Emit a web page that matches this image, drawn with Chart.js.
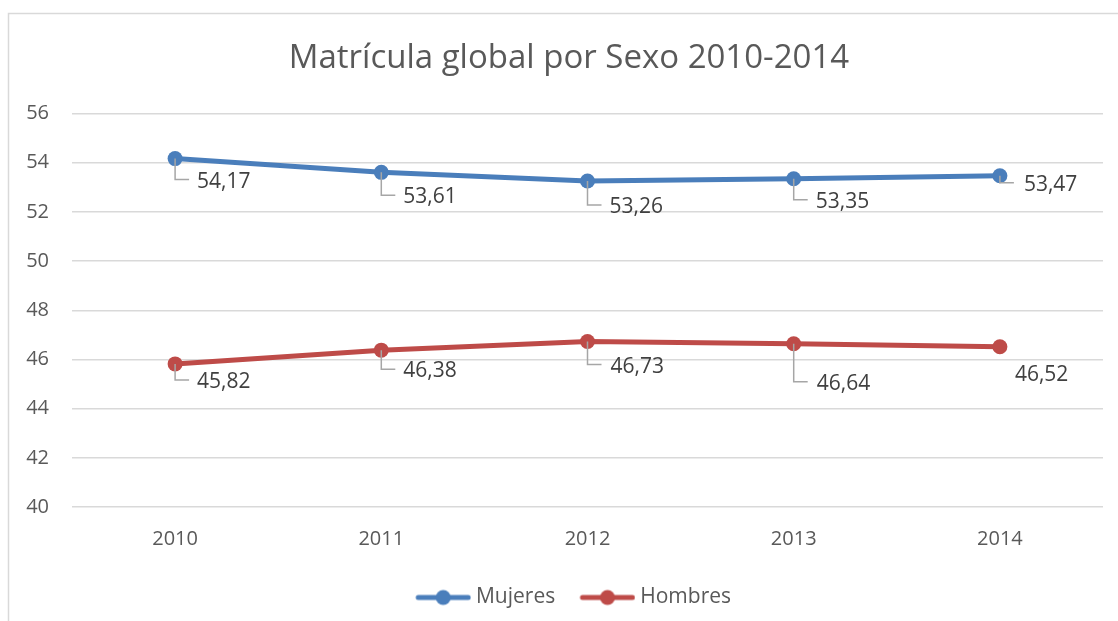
<!DOCTYPE html>
<html>
<head>
<meta charset="utf-8">
<script src="https://cdn.jsdelivr.net/npm/chart.js@4.4.1/dist/chart.umd.min.js"></script>
<style>
  html, body { margin: 0; padding: 0; background: #ffffff; }
  #wrap { width: 1118px; height: 621px; position: relative; }
</style>
</head>
<body>
<div id="wrap"><canvas id="c" width="1118" height="621"></canvas></div>
<script>
const categories = ['2010', '2011', '2012', '2013', '2014'];
const mujeres = [54.17, 53.61, 53.26, 53.35, 53.47];
const hombres = [45.82, 46.38, 46.73, 46.64, 46.52];
const seriesNames = ['Mujeres', 'Hombres'];
const chartTitle = 'Matrícula global por Sexo 2010-2014';

const BLUE = '#4A7EBB';
const RED = '#BE4B48';
const TEXT = '#595959';
const FONT = "'Open Sans', 'Liberation Sans', sans-serif";

// label placement relative to each point: [dx, dy, leader]
const labelOffsets = [
  [[22, 23, true], [22, 25, true], [22, 26, true], [22, 23, true], [24, 9, true]],
  [[22, 18, true], [22, 21, true], [23, 25, true], [23, 40, true], [15, 28, false]]
];

function legendIcon(color) {
  const c = document.createElement('canvas');
  c.width = 70; c.height = 18;
  const g = c.getContext('2d');
  g.strokeStyle = color; g.lineWidth = 5; g.lineCap = 'round';
  g.beginPath(); g.moveTo(17, 9); g.lineTo(67, 9); g.stroke();
  g.fillStyle = color;
  g.beginPath(); g.arc(42, 9, 7.5, 0, Math.PI * 2); g.fill();
  return c;
}

const frame = {
  id: 'frame',
  beforeDraw(chart) {
    const ctx = chart.ctx;
    ctx.save();
    ctx.fillStyle = '#ffffff';
    ctx.fillRect(0, 0, chart.width, chart.height);
    ctx.strokeStyle = '#D9D9D9';
    ctx.lineWidth = 1.5;
    ctx.beginPath();
    ctx.moveTo(8.5, chart.height);
    ctx.lineTo(8.5, 13.5);
    ctx.lineTo(chart.width, 13.5);
    ctx.stroke();
    ctx.restore();
  }
};

// centre title and legend slightly right of the canvas centre, as in the original
const shiftBoxes = {
  id: 'shiftBoxes',
  afterLayout(chart) {
    if (chart.titleBlock) chart.titleBlock.left += 13;
    if (chart.legend) chart.legend.left += 13;
  }
};

const dataLabels = {
  id: 'dataLabels',
  afterDatasetsDraw(chart) {
    const ctx = chart.ctx;
    ctx.save();
    ctx.font = '21px ' + FONT;
    ctx.textBaseline = 'middle';
    ctx.textAlign = 'left';
    chart.data.datasets.forEach((ds, di) => {
      const meta = chart.getDatasetMeta(di);
      meta.data.forEach((pt, i) => {
        const [dx, dy, leader] = labelOffsets[di][i];
        const tx = pt.x + dx, ty = pt.y + dy;
        if (leader) {
          ctx.strokeStyle = '#A6A6A6';
          ctx.lineWidth = 1.5;
          ctx.beginPath();
          ctx.moveTo(pt.x, pt.y);
          ctx.lineTo(pt.x, ty - 2);
          ctx.lineTo(pt.x + 14, ty - 2);
          ctx.stroke();
        }
        ctx.fillStyle = '#404040';
        ctx.fillText(ds.data[i].toFixed(2).replace('.', ','), tx, ty);
      });
    });
    ctx.restore();
  }
};

new Chart(document.getElementById('c'), {
  type: 'line',
  data: {
    labels: categories,
    datasets: [
      { label: seriesNames[0], data: mujeres, borderColor: BLUE, backgroundColor: BLUE,
        borderWidth: 5, pointRadius: 7.5, pointHoverRadius: 7.5, pointBackgroundColor: BLUE,
        pointBorderWidth: 0, tension: 0, pointStyle: 'circle' },
      { label: seriesNames[1], data: hombres, borderColor: RED, backgroundColor: RED,
        borderWidth: 5, pointRadius: 7.5, pointHoverRadius: 7.5, pointBackgroundColor: RED,
        pointBorderWidth: 0, tension: 0, pointStyle: 'circle' }
    ]
  },
  options: {
    responsive: false,
    animation: false,
    layout: { padding: { left: 22, right: 15, top: 0, bottom: 3 } },
    plugins: {
      title: {
        display: true, text: chartTitle, color: TEXT,
        font: { family: FONT, size: 33, weight: 'normal' },
        padding: { top: 39, bottom: 35 }
      },
      legend: {
        position: 'bottom',
        labels: {
          color: TEXT,
          font: { family: FONT, size: 21 },
          usePointStyle: true,
          pointStyleWidth: 58.5,
          padding: 16,
          generateLabels(chart) {
            return chart.data.datasets.map((ds, i) => ({
              text: ds.label, fillStyle: ds.borderColor, strokeStyle: ds.borderColor,
              lineWidth: 0, pointStyle: legendIcon(ds.borderColor), datasetIndex: i,
              fontColor: TEXT, hidden: false
            }));
          }
        }
      },
      tooltip: { enabled: false }
    },
    scales: {
      x: {
        offset: true,
        grid: { display: false, drawTicks: false },
        border: { display: false },
        ticks: { color: TEXT, font: { family: FONT, size: 20 }, padding: 20 }
      },
      y: {
        min: 40, max: 56,
        ticks: { stepSize: 2, color: TEXT, font: { family: FONT, size: 20 }, padding: 23 },
        grid: { color: '#D9D9D9', lineWidth: 1.5, drawTicks: false },
        border: { display: false },
        afterFit(scale) { scale.width = 50; }
      }
    }
  },
  plugins: [frame, shiftBoxes, dataLabels]
});
</script>
</body>
</html>
